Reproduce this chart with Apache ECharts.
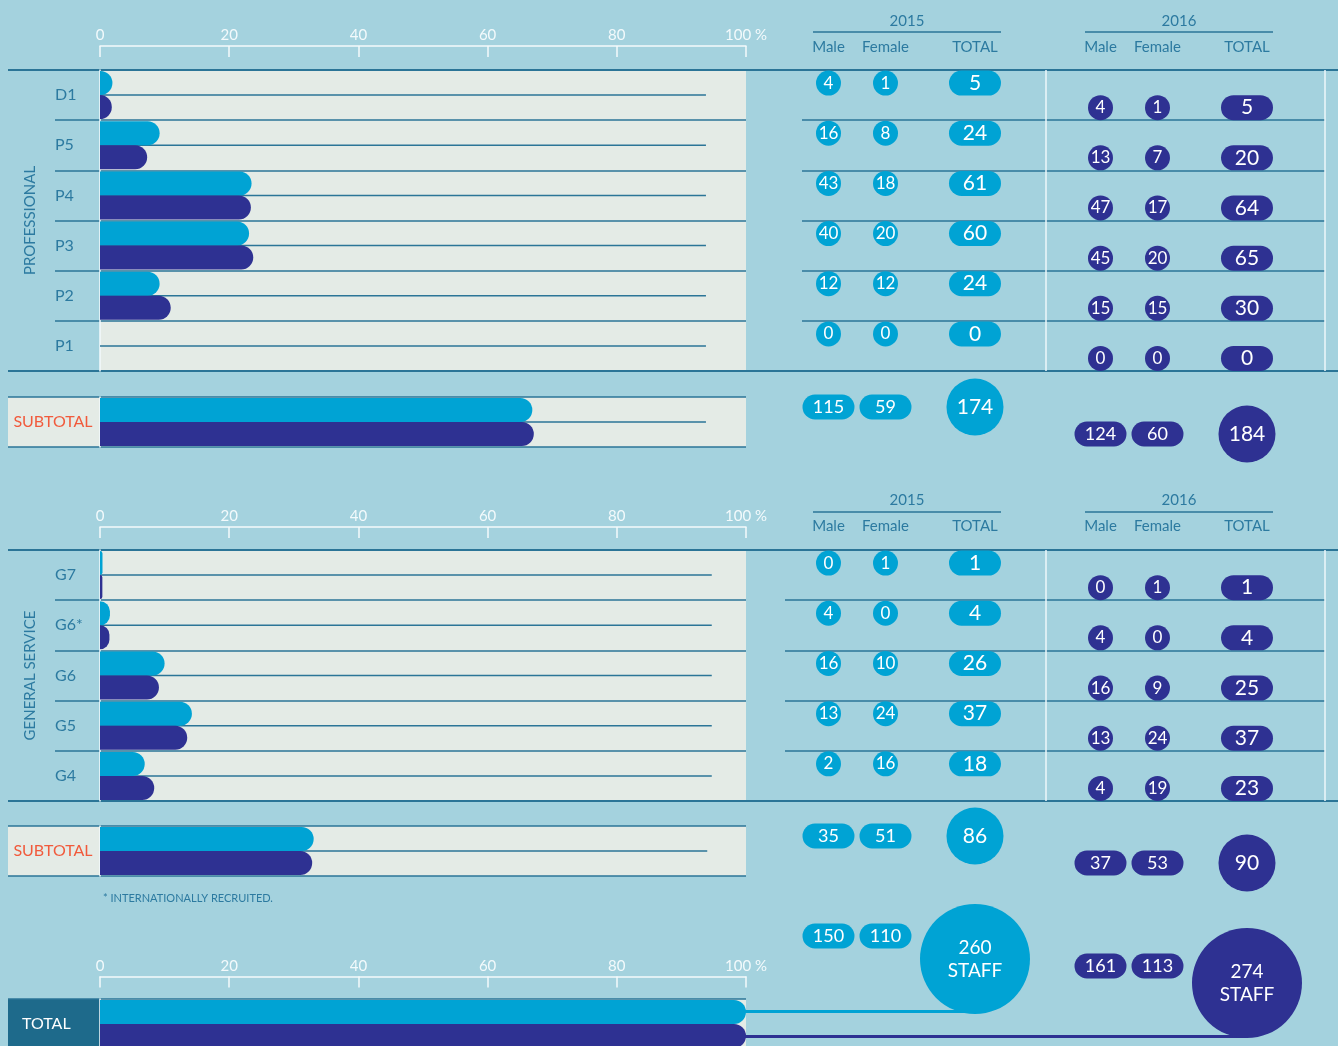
<!DOCTYPE html>
<html><head><meta charset="utf-8">
<script src="https://cdn.jsdelivr.net/npm/echarts@6/dist/echarts.min.js"></script>
<style>html,body{margin:0;padding:0;background:#a4d2de;}#c{width:1338px;height:1046px;}</style>
</head><body><div id="c"></div>
<script>
// ---------------- DATA ----------------
const profCats = ['D1', 'P5', 'P4', 'P3', 'P2', 'P1'];
const prof2015Male = [4, 16, 43, 40, 12, 0];
const prof2015Female = [1, 8, 18, 20, 12, 0];
const prof2015Total = [5, 24, 61, 60, 24, 0];
const prof2016Male = [4, 13, 47, 45, 15, 0];
const prof2016Female = [1, 7, 17, 20, 15, 0];
const prof2016Total = [5, 20, 64, 65, 30, 0];
const profSub2015 = [115, 59, 174];   // male, female, total
const profSub2016 = [124, 60, 184];

const gsCats = ['G7', 'G6*', 'G6', 'G5', 'G4'];
const gs2015Male = [0, 4, 16, 13, 2];
const gs2015Female = [1, 0, 10, 24, 16];
const gs2015Total = [1, 4, 26, 37, 18];
const gs2016Male = [0, 4, 16, 13, 4];
const gs2016Female = [1, 0, 9, 24, 19];
const gs2016Total = [1, 4, 25, 37, 23];
const gsSub2015 = [35, 51, 86];
const gsSub2016 = [37, 53, 90];

const grand2015 = [150, 110, 260];    // male, female, total staff
const grand2016 = [161, 113, 274];

const pctTicks = [0, 20, 40, 60, 80, 100];
const yearLabels = ['2015', '2016'];
const colHeads = ['Male', 'Female', 'TOTAL'];
const footnote = '* INTERNATIONALLY RECRUITED.';

// share of all staff, in %
const share = (v, all) => v / all * 100;

// ---------------- STYLE / LAYOUT ----------------
const C = {bg:'#a4d2de', plot:'#e4ebe6', light:'#00a3d4', dark:'#2e3192', line:'#2b7597',
  text:'#2c7aa0', white:'#f3fafc', red:'#f15a3c', cell:'#1e6a8b'};
const FONT = 'Lato, "Noto Sans", sans-serif';
const COL = {male: 0.5, female: 1.5, total: 3.07};     // bubble column positions (grid units)
const BUB = {w: 228, units: 4, left: [800, 1072]};     // bubble grids
const colPx = (y, c) => BUB.left[y] + c * BUB.w / BUB.units;

const grid = [], xAxis = [], yAxis = [], series = [], graphic = [];
function addGrid(g, xa, ya) {
  const gi = grid.length;
  grid.push(Object.assign({outerBoundsMode:'none', containLabel:false, show:false, borderWidth:0}, g));
  xAxis.push(Object.assign({gridIndex: gi}, xa));
  yAxis.push(Object.assign({gridIndex: gi}, ya));
  return gi;
}
const hidden = (extra) => Object.assign({type:'value', show:false}, extra || {min:0, max:1});
function splitAxis(min, max, sl, extra) {
  return Object.assign({type:'value', min, max, interval:1, inverse:true,
    axisLine:{show:false}, axisTick:{show:false}, axisLabel:{show:false},
    splitLine:Object.assign({show:true, lineStyle:{color:C.line, width:1.5}}, sl || {})}, extra || {});
}
function pctAxis(offset) {
  return {type:'value', min:pctTicks[0], max:pctTicks[pctTicks.length-1], interval:pctTicks[1]-pctTicks[0],
    position:'top', offset,
    axisLine:{show:true, lineStyle:{color:C.white, width:1.5}},
    axisTick:{show:true, inside:true, length:11, lineStyle:{color:C.white, width:1.5}},
    axisLabel:{color:C.white, fontSize:15, fontFamily:FONT, margin:3,
      formatter: v => v === 100 ? '100 %' : String(v)},
    splitLine:{show:false}};
}
function catAxis(data, label) {
  return {type:'category', data, inverse:true,
    axisLine:{show:true, lineStyle:{color:C.white, width:1.5}}, axisTick:{show:false},
    axisLabel:Object.assign({fontFamily:FONT, fontSize:16}, label),
    splitLine:{show:true, showMinLine:false, showMaxLine:false, lineStyle:{color:C.line, width:1.5}}};
}
function barSeries(gi, data, color) {
  return {type:'bar', xAxisIndex:gi, yAxisIndex:gi, data, barWidth:24, barGap:'0%', z:3, silent:true,
    itemStyle:{color, borderRadius:[0, 12, 12, 0]}};
}
function midlines(gi, n, end) {
  const data = [];
  for (let i = 0; i < n; i++) data.push([0, i, end]);
  return {type:'custom', xAxisIndex:gi, yAxisIndex:gi, data, z:2, silent:true, clip:false,
    encode:{x:[0, 2], y:1},
    renderItem:(p, api) => {
      const a = api.coord([api.value(0), api.value(1)]);
      const b = api.coord([api.value(2), api.value(1)]);
      return {type:'line', shape:{x1:a[0], y1:a[1], x2:b[0], y2:b[1]}, style:{stroke:C.line, lineWidth:1.5}};
    }};
}
const PILL = 'path://M12.5,0L39.5,0A12.5,12.5,0,0,1,39.5,25L12.5,25A12.5,12.5,0,0,1,12.5,0Z';
function bubbles(gi, data, color, symbol, size, fontSize, fmt, lh) {
  return {type:'scatter', xAxisIndex:gi, yAxisIndex:gi, data, symbol, symbolSize:size,
    clip:false, silent:true, z:5, itemStyle:{color, opacity:1},
    label:{show:true, position:'inside', color:'#ffffff', fontSize, fontFamily:FONT,
      lineHeight: lh || fontSize, formatter: fmt || (p => String(p.value[2]))}};
}
function headerTexts(yYear, yLine, yHead) {
  [0, 1].forEach(y => {
    const x0 = BUB.left[y] + 13, x1 = BUB.left[y] + 201;
    graphic.push({type:'text', silent:true, style:{text:yearLabels[y], x:(x0 + x1) / 2, y:yYear,
      align:'center', verticalAlign:'middle', fill:C.text, fontSize:15, fontFamily:FONT}});
    graphic.push({type:'line', silent:true, shape:{x1:x0, y1:yLine, x2:x1, y2:yLine},
      style:{stroke:C.line, lineWidth:1.5}});
    [COL.male, COL.female, COL.total].forEach((c, k) => graphic.push({type:'text', silent:true,
      style:{text:colHeads[k], x:colPx(y, c), y:yHead, align:'center', verticalAlign:'middle',
        fill:C.text, fontSize:15, fontFamily:FONT}}));
  });
}

function tableSection(cfg) {
  const {top, height:h, cats, title, axisOffset, sepLeft, midEnd, grand} = cfg;
  const n = cats.length;
  // full-width top/bottom borders
  addGrid({left:8, top, width:1330, height:h}, hidden(), splitAxis(0, 1, {lineStyle:{color:C.line, width:2}}));
  // left label column separators + rotated section title
  addGrid({left:55, top, width:45, height:h}, hidden(),
    splitAxis(0, n, {showMinLine:false, showMaxLine:false}, {name:title, nameLocation:'middle',
      nameRotate:90, nameGap:17, nameTextStyle:{color:C.text, fontSize:15, fontFamily:FONT}}));
  // bar plot
  const gb = addGrid({left:100, top, width:646, height:h, show:true, backgroundColor:C.plot},
    pctAxis(axisOffset), catAxis(cats, {color:C.text, align:'left', margin:45}));
  series.push(midlines(gb, n, midEnd));
  series.push(barSeries(gb, cfg.t[0].map(v => share(v, grand[0][2])), C.light));
  series.push(barSeries(gb, cfg.t[1].map(v => share(v, grand[1][2])), C.dark));
  // separators of the number columns
  addGrid({left:sepLeft, top, width:1046 - sepLeft, height:h}, hidden(),
    splitAxis(0, n, {showMinLine:false, showMaxLine:false}));
  addGrid({left:1046, top, width:279, height:h},
    {type:'value', min:0, max:1, interval:1, axisLine:{show:false}, axisTick:{show:false}, axisLabel:{show:false},
      splitLine:{show:true, lineStyle:{color:'#eef7fa', width:1.5}}},
    splitAxis(0, n, {showMinLine:false, showMaxLine:false}));
  // bubbles
  [0, 1].forEach(y => {
    const gi = addGrid({left:BUB.left[y], top, width:BUB.w, height:h},
      hidden({min:0, max:BUB.units}), hidden({min:0, max:n, inverse:true}));
    const off = y === 0 ? 0.26 : 0.75, col = y === 0 ? C.light : C.dark;
    series.push(bubbles(gi, cfg.m[y].map((v, i) => [COL.male, i + off, v]), col, 'circle', 25, 17));
    series.push(bubbles(gi, cfg.f[y].map((v, i) => [COL.female, i + off, v]), col, 'circle', 25, 17));
    series.push(bubbles(gi, cfg.t[y].map((v, i) => [COL.total, i + off, v]), col, PILL, [52, 25], 21));
  });
}

function subtotalSection(cfg) {
  const {top, sub, grand, midEnd} = cfg;
  addGrid({left:8, top, width:738, height:50, show:true, backgroundColor:C.plot}, hidden(), splitAxis(0, 1));
  const gb = addGrid({left:100, top, width:646, height:50}, hidden({min:0, max:100}),
    Object.assign(catAxis(['SUBTOTAL'], {color:C.red, align:'center', margin:47}), {splitLine:{show:false}}));
  series.push(midlines(gb, 1, midEnd));
  series.push(barSeries(gb, [share(sub[0][2], grand[0][2])], C.light));
  series.push(barSeries(gb, [share(sub[1][2], grand[1][2])], C.dark));
  [0, 1].forEach(y => {
    const gi = addGrid({left:BUB.left[y], top, width:BUB.w, height:50},
      hidden({min:0, max:BUB.units}), hidden({min:0, max:1, inverse:true}));
    const off = y === 0 ? 0.2 : 0.74, col = y === 0 ? C.light : C.dark;
    series.push(bubbles(gi, [[COL.male, off, sub[y][0]]], col, PILL, [52, 25], 18));
    series.push(bubbles(gi, [[COL.female, off, sub[y][1]]], col, PILL, [52, 25], 18));
    series.push(bubbles(gi, [[COL.total, off, sub[y][2]]], col, 'circle', 57, 21));
  });
}

// ---------------- BUILD ----------------
headerTexts(21, 32, 47);
tableSection({top:70, height:301, cats:profCats, title:'PROFESSIONAL', axisOffset:24, sepLeft:802, midEnd:93.8,
  grand:[grand2015, grand2016], m:[prof2015Male, prof2016Male], f:[prof2015Female, prof2016Female],
  t:[prof2015Total, prof2016Total]});
subtotalSection({top:397, sub:[profSub2015, profSub2016], grand:[grand2015, grand2016], midEnd:93.8});

headerTexts(500, 512, 526);
tableSection({top:550, height:251, cats:gsCats, title:'GENERAL SERVICE', axisOffset:23, sepLeft:785, midEnd:94.7,
  grand:[grand2015, grand2016], m:[gs2015Male, gs2016Male], f:[gs2015Female, gs2016Female],
  t:[gs2015Total, gs2016Total]});
subtotalSection({top:826, sub:[gsSub2015, gsSub2016], grand:[grand2015, grand2016], midEnd:94});

graphic.push({type:'text', silent:true, style:{text:footnote, x:103, y:898, align:'left', verticalAlign:'middle',
  fill:C.text, fontSize:11, fontFamily:FONT}});

// TOTAL
addGrid({left:8, top:999, width:92, height:50, show:true, backgroundColor:C.cell}, hidden(), hidden());
const gTot = addGrid({left:100, top:999, width:646, height:50, show:true, backgroundColor:C.plot},
  pctAxis(22.5), Object.assign(catAxis(['TOTAL'], {color:'#ffffff', align:'left', margin:78}), {splitLine:{show:false}}));
addGrid({left:8, top:999, width:738, height:50}, hidden(), splitAxis(0, 1, {showMaxLine:false}));
const totPct = [share(grand2015[2], grand2015[2]), share(grand2016[2], grand2016[2])];
[0, 1].forEach(y => {
  const endVal = (colPx(y, COL.total) - 100) / 646 * 100;
  series.push({type:'custom', xAxisIndex:gTot, yAxisIndex:gTot, data:[[totPct[y], 0, endVal, y === 0 ? -1 : 1]],
    z:1, silent:true, clip:false, encode:{x:[0, 2], y:1},
    renderItem:(p, api) => {
      const a = api.coord([api.value(0), api.value(1)]);
      const b = api.coord([api.value(2), api.value(1)]);
      const dy = api.value(3) * api.size([0, 1])[1] / 4;
      return {type:'line', shape:{x1:a[0] - 4, y1:a[1] + dy, x2:b[0], y2:b[1] + dy},
        style:{stroke:y === 0 ? C.light : C.dark, lineWidth:3}};
    }});
});
series.push(barSeries(gTot, [totPct[0]], C.light));
series.push(barSeries(gTot, [totPct[1]], C.dark));
const totY = [{pill:-1.26, circle:-0.8}, {pill:-0.66, circle:-0.32}];
[0, 1].forEach(y => {
  const gi = addGrid({left:BUB.left[y], top:999, width:BUB.w, height:50},
    hidden({min:0, max:BUB.units}), hidden({min:0, max:1, inverse:true}));
  const g = y === 0 ? grand2015 : grand2016, col = y === 0 ? C.light : C.dark;
  series.push(bubbles(gi, [[COL.male, totY[y].pill, g[0]]], col, PILL, [52, 25], 18));
  series.push(bubbles(gi, [[COL.female, totY[y].pill, g[1]]], col, PILL, [52, 25], 18));
  series.push(bubbles(gi, [[COL.total, totY[y].circle, g[2]]], col, 'circle', 110, 19,
    p => p.value[2] + '\nSTAFF', 23));
});

const chart = echarts.init(document.getElementById('c'), null, {renderer:'canvas'});
chart.setOption({backgroundColor:C.bg, animation:false, tooltip:{show:false},
  grid, xAxis, yAxis, series, graphic});
</script></body></html>
